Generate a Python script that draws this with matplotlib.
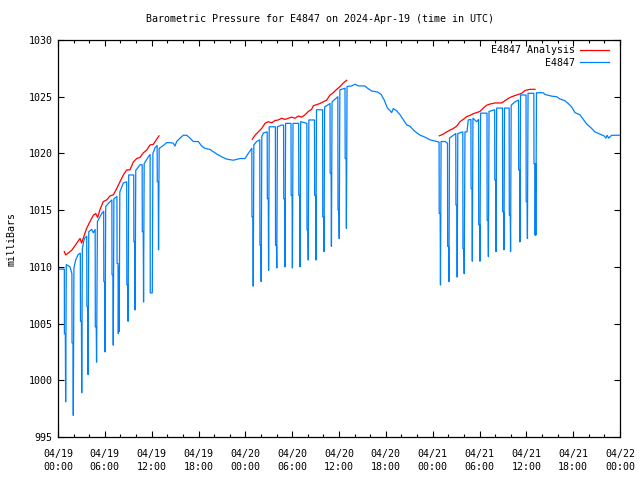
import numpy as np
import pandas as pd
import matplotlib
matplotlib.use("Agg")
import matplotlib.pyplot as plt
import matplotlib.dates as mdates

# hours after 2024-04-19 00:00 UTC, pressure in mbar
# each dip: down to a shoulder, short plateau, spike to the low, back up
blue_hours = [
    # day 1 morning
    0.20, 0.81, 0.82, 0.94, 0.98, 1.06, 1.54, 1.78, 1.80, 1.92, 1.96, 2.04,
    2.26, 2.60, 2.86, 2.88, 3.00, 3.04, 3.12, 3.37, 3.68, 3.70, 3.82, 3.86, 3.94,
    4.31, 4.53, 4.76, 4.78, 4.90, 4.94, 5.05, 5.60, 5.85, 5.87, 5.99, 6.03, 6.11,
    6.45, 6.90, 6.92, 7.04, 7.08, 7.16, 7.55, 7.57, 7.69, 7.73, 7.78, 7.84, 7.92,
    8.37, 8.80, 8.82, 8.94, 8.98, 9.06, 9.70, 9.72, 9.84, 9.88, 9.96,
    10.50, 10.78, 10.80, 10.92, 10.96, 11.04, 11.57, 11.80, 11.82, 12.08, 12.16,
    12.43, 12.70, 12.72, 12.84, 12.88, 12.96, 13.50,
    # afternoon / night
    13.92, 14.35, 14.77, 14.99, 15.20, 15.63, 16.05, 16.49, 16.91, 17.33, 17.97, 18.41, 18.83,
    19.47, 20.33, 20.97, 21.61, 22.46, 23.32, 23.96, 24.38, 24.83,
    # day 2 morning
    24.85, 24.97, 25.01, 25.09, 25.45, 25.85, 25.87, 25.99, 26.03, 26.11, 26.30, 26.80,
    26.82, 26.94, 26.98, 27.06, 27.85, 27.87, 27.99, 28.03, 28.11, 28.65, 28.90,
    28.92, 29.04, 29.08, 29.16, 29.85, 29.87, 29.99, 30.03, 30.11, 30.83,
    30.85, 30.97, 31.01, 31.09, 31.88, 31.90, 32.02, 32.06, 32.14, 32.86,
    32.88, 33.00, 33.04, 33.12, 33.90, 33.92, 34.04, 34.08, 34.16, 34.85,
    34.87, 34.99, 35.03, 35.11, 35.85, 35.87, 35.99, 36.03, 36.11, 36.77,
    36.79, 36.91, 36.95, 37.03, 37.62, 38.05,
    # afternoon / night
    38.50, 39.30, 39.75, 40.20, 41.00, 41.40, 41.80, 42.20, 42.50, 42.75, 42.95, 43.40, 43.83,
    44.30, 44.70, 45.10, 45.55, 46.00, 46.40, 46.80, 47.25, 47.66, 48.51, 48.82,
    # day 3 morning
    48.84, 48.96, 49.00, 49.08, 49.60, 49.90, 49.92, 50.04, 50.08, 50.16, 50.64, 50.96,
    50.98, 51.10, 51.14, 51.22, 51.86, 51.88, 52.00, 52.04, 52.14, 52.40, 52.56, 52.90,
    52.92, 53.04, 53.08, 53.16, 53.64, 53.88, 53.90, 54.02, 54.06, 54.14, 54.96,
    54.98, 55.10, 55.14, 55.22, 55.94, 55.96, 56.08, 56.12, 56.20, 56.95,
    56.97, 57.09, 57.13, 57.21, 57.80, 57.82, 57.94, 57.98, 58.06, 58.55, 59.00,
    59.02, 59.14, 59.18, 59.26, 59.96, 59.98, 60.10, 60.14, 60.22, 60.96,
    60.98, 61.10, 61.13, 61.18, 61.22, 61.30,
    # afternoon / night
    62.17, 62.39, 63.25, 63.89, 64.31, 64.95, 65.37, 65.80, 66.23, 66.87, 67.30, 67.73, 68.37,
    68.79, 69.43, 69.95, 70.20, 70.35, 70.55, 70.93, 71.90,
]
blue_mbar = [
    1009.8, 1009.8, 1004.1, 1004.1, 998.1, 1010.2, 1010.0, 1009.4, 1003.3, 1003.3, 996.9, 1009.9,
    1010.6, 1011.1, 1011.2, 1005.2, 1005.2, 998.9, 1011.6, 1012.5, 1012.7, 1006.5, 1006.5, 1000.5, 1013.1,
    1013.3, 1013.0, 1013.3, 1004.7, 1004.7, 1001.6, 1014.0, 1014.7, 1014.9, 1008.7, 1008.7, 1002.5, 1015.3,
    1015.6, 1015.9, 1009.3, 1009.3, 1003.1, 1016.0, 1016.2, 1010.3, 1010.3, 1004.1, 1010.0, 1004.3, 1016.6,
    1017.4, 1017.5, 1008.4, 1008.4, 1005.2, 1018.1, 1018.1, 1012.2, 1012.2, 1006.2, 1018.5,
    1019.0, 1019.0, 1013.1, 1013.1, 1006.9, 1019.1, 1019.7, 1019.9, 1007.7, 1007.7, 1020.0,
    1020.5, 1020.7, 1017.5, 1017.5, 1011.5, 1020.45, 1020.7,
    1020.95, 1020.95, 1020.9, 1020.65, 1021.05, 1021.35, 1021.6, 1021.6, 1021.35, 1021.05, 1021.05, 1020.65, 1020.45,
    1020.35, 1019.95, 1019.7, 1019.5, 1019.4, 1019.55, 1019.55, 1020.0, 1020.45,
    1014.4, 1014.4, 1008.3, 1020.75, 1021.05, 1021.2, 1011.9, 1011.9, 1008.7, 1021.5, 1021.8, 1021.9,
    1016.0, 1016.0, 1009.7, 1022.35, 1022.35, 1011.9, 1011.9, 1009.9, 1022.35, 1022.5, 1022.5,
    1016.0, 1016.0, 1010.0, 1022.65, 1022.65, 1016.3, 1016.3, 1009.9, 1022.65, 1022.65,
    1016.3, 1016.3, 1010.0, 1022.8, 1022.65, 1013.25, 1013.25, 1010.6, 1022.95, 1022.95,
    1016.3, 1016.3, 1010.6, 1023.85, 1023.85, 1014.4, 1014.4, 1011.35, 1024.1, 1024.4,
    1018.25, 1018.25, 1011.8, 1024.55, 1025.0, 1015.0, 1015.0, 1012.5, 1025.6, 1025.75,
    1019.55, 1019.55, 1013.4, 1025.9, 1025.95, 1026.1,
    1025.95, 1025.95, 1025.7, 1025.5, 1025.4, 1025.2, 1024.7, 1024.0, 1023.8, 1023.6, 1023.95, 1023.75, 1023.4,
    1022.9, 1022.5, 1022.4, 1022.05, 1021.8, 1021.6, 1021.5, 1021.35, 1021.2, 1021.05, 1021.0,
    1014.7, 1014.7, 1008.4, 1021.05, 1021.05, 1020.9, 1011.8, 1011.8, 1008.7, 1021.35, 1021.6, 1021.75,
    1015.45, 1015.45, 1009.1, 1021.75, 1021.9, 1011.6, 1011.6, 1009.4, 1021.9, 1021.9, 1022.95, 1023.0,
    1016.9, 1016.9, 1010.5, 1023.1, 1022.8, 1023.0, 1013.7, 1013.7, 1010.5, 1023.55, 1023.55,
    1014.1, 1014.1, 1010.9, 1023.7, 1023.85, 1017.65, 1017.65, 1011.35, 1024.0, 1024.0,
    1014.85, 1014.85, 1011.5, 1024.0, 1024.0, 1014.55, 1014.55, 1011.35, 1024.25, 1024.55, 1024.7,
    1018.55, 1018.55, 1012.2, 1025.15, 1025.15, 1015.75, 1015.75, 1012.5, 1025.3, 1025.3,
    1019.1, 1019.1, 1012.8, 1019.1, 1012.8, 1025.35,
    1025.35, 1025.2, 1025.05, 1025.0, 1024.8, 1024.65, 1024.4, 1024.1, 1023.6, 1023.4, 1023.0, 1022.6, 1022.2,
    1021.9, 1021.7, 1021.55, 1021.35, 1021.6, 1021.35, 1021.6, 1021.6,
]

# analysis runs, NaN separates the three segments
red_hours = [
    0.81, 0.98, 1.75, 2.26, 2.82, 3.03, 3.37, 3.67, 4.10, 4.53, 4.83, 5.08, 5.38, 5.80, 6.23, 6.66,
    7.09, 7.52, 7.94, 8.37, 8.80, 9.22, 9.65, 10.08, 10.50, 10.93, 11.36, 11.79, 12.21, 12.64, 12.94,
    np.nan,
    24.89, 25.24, 25.66, 26.09, 26.52, 26.94, 27.37, 27.80, 28.22, 28.65, 29.08, 29.51, 29.94, 30.36,
    30.79, 31.21, 31.64, 32.07, 32.50, 32.71, 33.13, 33.56, 33.99, 34.42, 34.85, 35.27, 35.70, 36.13,
    36.55, 36.98,
    np.nan,
    48.85, 49.36, 49.79, 50.21, 50.64, 51.07, 51.50, 51.92, 52.36, 52.78, 53.20, 53.63, 54.06, 54.48,
    54.92, 55.34, 55.98, 56.84, 57.27, 57.69, 58.12, 58.76, 59.40, 59.83, 60.47, 61.11,
]
red_mbar = [
    1011.35, 1011.05, 1011.45, 1011.95, 1012.5, 1012.1, 1012.8, 1013.4, 1014.0, 1014.55, 1014.7, 1014.35,
    1015.05, 1015.75, 1015.9, 1016.25, 1016.35, 1016.9, 1017.5, 1018.1, 1018.55, 1018.55, 1019.25, 1019.55,
    1019.65, 1020.05, 1020.3, 1020.75, 1020.8, 1021.25, 1021.55,
    np.nan,
    1021.25, 1021.6, 1021.9, 1022.2, 1022.65, 1022.8, 1022.7, 1022.9, 1022.95, 1023.1, 1023.0, 1023.1,
    1023.2, 1023.1, 1023.3, 1023.2, 1023.4, 1023.7, 1023.9, 1024.2, 1024.3, 1024.4, 1024.55, 1024.7,
    1025.15, 1025.35, 1025.65, 1025.9, 1026.2, 1026.45,
    np.nan,
    1021.55, 1021.7, 1021.9, 1022.05, 1022.2, 1022.4, 1022.8, 1023.0, 1023.25, 1023.35, 1023.5, 1023.6,
    1023.7, 1024.0, 1024.25, 1024.35, 1024.45, 1024.45, 1024.65, 1024.85, 1025.0, 1025.15, 1025.3,
    1025.55, 1025.65, 1025.65,
]

start = pd.Timestamp("2024-04-19 00:00")
end = pd.Timestamp("2024-04-22 00:00")
t0 = mdates.date2num(start)

def to_time(hours):
    # matplotlib date numbers (days); NaN gaps survive
    return t0 + np.asarray(hours, dtype=float) / 24.0

font = "DejaVu Sans Mono"
fs = 7.2
plt.rcParams["font.family"] = font
plt.rcParams["font.size"] = fs

fig = plt.figure(figsize=(6.4, 4.8), dpi=100)
ax = fig.add_axes([58 / 640, 43 / 480, 562 / 640, 397 / 480])

ax.plot(to_time(red_hours), red_mbar, color="#ff0000", lw=0.9, label="E4847 Analysis")
ax.plot(to_time(blue_hours), blue_mbar, color="#0080ff", lw=0.9, label="E4847")

ax.xaxis_date()
ax.set_xlim(t0, mdates.date2num(end))
ax.set_ylim(995, 1030)
ax.set_yticks(range(995, 1031, 5))
ax.xaxis.set_major_locator(mdates.HourLocator(byhour=range(0, 24, 6)))
ax.xaxis.set_minor_locator(mdates.HourLocator(byhour=range(0, 24, 2)))
ax.xaxis.set_major_formatter(mdates.DateFormatter("%m/%d\n%H:%M"))

ax.tick_params(which="both", direction="in", top=True, right=True, colors="black", labelsize=fs)
ax.tick_params(which="major", length=4, width=0.8)
ax.tick_params(which="minor", length=2.2, width=0.8)
ax.tick_params(axis="x", which="major", pad=9)
ax.tick_params(axis="y", which="major", pad=4)
for lab in ax.get_xticklabels():
    lab.set_linespacing(1.3)
for sp in ax.spines.values():
    sp.set_linewidth(0.9)

ax.set_ylabel("milliBars", fontsize=fs, labelpad=8.5)
fig.text(0.5, 1 - 19 / 480, "Barometric Pressure for E4847 on 2024-Apr-19 (time in UTC)",
         ha="center", va="center", fontsize=fs)

ax.legend(loc="upper right", bbox_to_anchor=(611 / 640, 1 - 43 / 480),
          bbox_transform=fig.transFigure, frameon=False, markerfirst=False, fontsize=fs,
          handlelength=2.9, handletextpad=0.5, labelspacing=0.25,
          borderaxespad=0.0, borderpad=0.2)

fig.savefig("out.png", dpi=100)
